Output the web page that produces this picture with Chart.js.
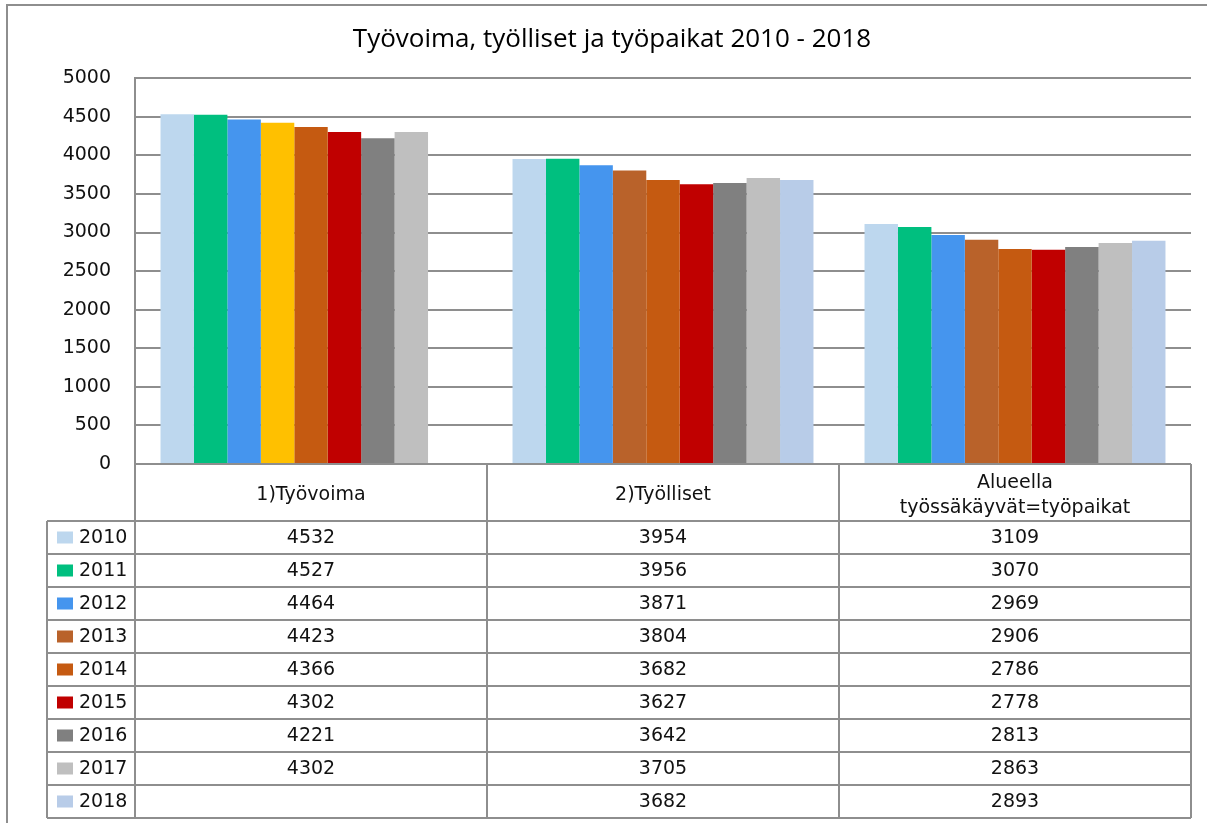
<!DOCTYPE html>
<html>
<head>
<meta charset="utf-8">
<script src="https://cdn.jsdelivr.net/npm/chart.js@4/dist/chart.umd.min.js"></script>
<style>
  html, body { margin: 0; padding: 0; background: #fff; }
  #wrap { width: 1207px; height: 823px; }
</style>
</head>
<body>
<div id="wrap"><canvas id="myChart" width="1207" height="823"></canvas></div>
<script>
// kategoriat ja vuodet
const categories = ["1)Työvoima", "2)Työlliset", ["Alueella", "työssäkäyvät=työpaikat"]];
const years = ["2010", "2011", "2012", "2013", "2014", "2015", "2016", "2017", "2018"];

// arvot vuosittain (Työvoima, Työlliset, Työpaikat)
const values2010 = [4532, 3954, 3109];
const values2011 = [4527, 3956, 3070];
const values2012 = [4464, 3871, 2969];
const values2013 = [4423, 3804, 2906];
const values2014 = [4366, 3682, 2786];
const values2015 = [4302, 3627, 2778];
const values2016 = [4221, 3642, 2813];
const values2017 = [4302, 3705, 2863];
const values2018 = [null, 3682, 2893];
const seriesValues = [values2010, values2011, values2012, values2013, values2014,
  values2015, values2016, values2017, values2018];

const yTicks = [0, 500, 1000, 1500, 2000, 2500, 3000, 3500, 4000, 4500, 5000];

const colors = ["#BDD7EE", "#00BF7F", "#4595EE", "#B9622A", "#C55A11", "#C00000", "#808080", "#BFBFBF", "#B8CCE8"];
// 2013 palkki on ensimmäisessä ryhmässä keltainen
const barColors = colors.map((c, i) => i === 3 ? ["#FFC000", c, c] : c);

const lineCol = "#8e8e8e";
const tableFont = "19px 'DejaVu Sans'";
const rowH = 33;
const headerH = 57;
const legendLeft = 47;

const datasets = years.map((y, i) => ({
  label: y,
  data: seriesValues[i],
  backgroundColor: barColors[i],
  borderWidth: 0
}));

// kehys + datataulukko kuvaajan alle
const tablePlugin = {
  id: "dataTable",
  beforeDraw(chart) {
    const ctx = chart.ctx;
    ctx.save();
    ctx.fillStyle = "#fff";
    ctx.fillRect(0, 0, chart.width, chart.height);
    ctx.strokeStyle = lineCol;
    ctx.lineWidth = 2;
    ctx.beginPath();
    ctx.moveTo(7, chart.height);
    ctx.lineTo(7, 5);
    ctx.lineTo(chart.width, 5);
    ctx.stroke();
    ctx.restore();
  },
  afterDraw(chart) {
    const ctx = chart.ctx;
    const area = chart.chartArea;
    const xs = chart.scales.x;
    const n = categories.length;
    const colW = (area.right - area.left) / n;
    const top = area.bottom;
    const headBottom = top + headerH;
    const bottom = headBottom + rowH * years.length;

    ctx.save();
    ctx.strokeStyle = lineCol;
    ctx.lineWidth = 2;
    ctx.beginPath();
    // pystyviivat
    for (let i = 0; i <= n; i++) {
      const x = area.left + colW * i;
      ctx.moveTo(x, i === 0 ? area.top : top);
      ctx.lineTo(x, bottom);
    }
    ctx.moveTo(legendLeft, headBottom);
    ctx.lineTo(legendLeft, bottom);
    // vaakaviivat
    ctx.moveTo(area.left, top);
    ctx.lineTo(area.right, top);
    for (let r = 0; r <= years.length; r++) {
      const y = headBottom + r * rowH;
      ctx.moveTo(legendLeft, y);
      ctx.lineTo(area.right, y);
    }
    ctx.stroke();

    ctx.fillStyle = "#111";
    ctx.font = tableFont;
    ctx.textAlign = "center";
    ctx.textBaseline = "middle";
    categories.forEach((c, i) => {
      const cx = xs.getPixelForTick(i);
      const lines = Array.isArray(c) ? c : [c];
      const lh = 25;
      const y0 = top + headerH / 2 + 3 - (lines.length - 1) * lh / 2;
      lines.forEach((t, k) => ctx.fillText(t, cx, y0 + k * lh));
    });

    years.forEach((yr, r) => {
      const cy = headBottom + r * rowH + rowH / 2;
      ctx.fillStyle = colors[r];
      ctx.fillRect(57, cy - 6, 16, 12);
      ctx.fillStyle = "#111";
      ctx.textAlign = "left";
      ctx.fillText(yr, 79, cy + 1);
      ctx.textAlign = "center";
      seriesValues[r].forEach((v, i) => {
        if (v !== null) ctx.fillText(String(v), xs.getPixelForTick(i), cy + 1);
      });
    });
    ctx.restore();
  }
};

new Chart(document.getElementById("myChart"), {
  type: "bar",
  data: { labels: categories, datasets: datasets },
  options: {
    responsive: false,
    animation: false,
    datasets: { bar: { categoryPercentage: 0.855, barPercentage: 1 } },
    layout: { padding: { left: 33, right: 16, bottom: 359, top: 0 } },
    plugins: {
      legend: { display: false },
      tooltip: { enabled: false },
      title: {
        display: true,
        text: "Työvoima, työlliset ja työpaikat 2010 - 2018",
        color: "#000",
        font: { family: "'Open Sans'", size: 26, weight: "normal", lineHeight: 1.2 },
        padding: { top: 24, bottom: 23 }
      }
    },
    scales: {
      x: { display: false },
      y: {
        min: 0,
        max: 5000,
        afterFit(scale) { scale.width = 102; },
        afterBuildTicks(scale) { scale.ticks = yTicks.map(v => ({ value: v })); },
        border: { display: true, color: lineCol, width: 2 },
        grid: { color: lineCol, lineWidth: 2, drawTicks: false },
        ticks: {
          color: "#111",
          padding: 24,
          font: { family: "'DejaVu Sans'", size: 19 },
          callback: v => String(v)
        }
      }
    }
  },
  plugins: [tablePlugin]
});
</script>
</body>
</html>
